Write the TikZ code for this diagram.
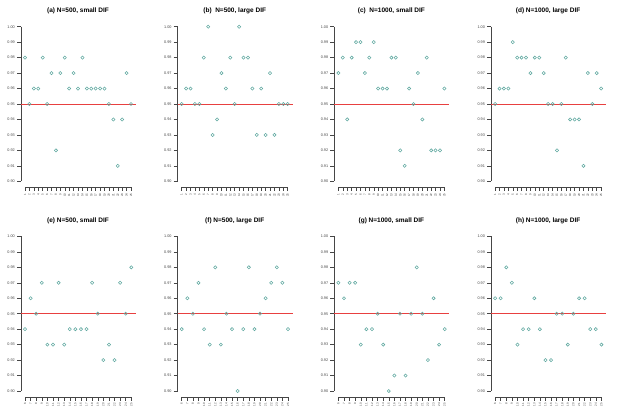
\documentclass[tikz,border=0pt]{standalone}
\usepackage{fontspec}
\setmainfont{Liberation Sans}
\definecolor{ptcol}{RGB}{95,168,160}
\definecolor{refred}{RGB}{232,64,64}
\definecolor{axgray}{RGB}{70,70,70}
\tikzset{
  ylab/.style={anchor=east,inner sep=0pt,font=\fontsize{3.8}{4}\selectfont,text=axgray},
  xlab/.style={anchor=east,rotate=90,inner sep=0pt,font=\fontsize{3}{3}\selectfont,text=axgray},
  ptitle/.style={inner sep=0pt,font=\fontsize{6.5}{7}\selectfont\bfseries},
  axline/.style={axgray,line width=0.6pt},
  tickline/.style={axgray,line width=0.45pt},
  pt/.style={ptcol,line width=0.55pt},
  refline/.style={refred,line width=0.8pt}
}
% #1 X0, #2 Ytop, #3 dx, #4 title, #5 data, #6 labels (macro), #7 name
\newcommand{\drawpanel}[7]{%
 \begin{scope}[shift={(#1,#2)}]
   \node[ptitle] (#7) at (57,-16) {#4};
   \draw[axline] (0,0) -- (0,154.6);
   \foreach \lab [count=\k from 0] in {1.00,0.99,0.98,0.97,0.96,0.95,0.94,0.93,0.92,0.91,0.90} {
     \draw[tickline] (-4,\k*15.46) -- (0,\k*15.46);
     \node[ylab] at (-6,\k*15.46) {\lab};
   }
   \draw[refline] (0,77.3) -- (115,77.3);
   \foreach \v [count=\i from 0] in {#5} {
     \draw[pt] (4+\i*#3,{(100-\v)*15.46}) circle[radius=1.6];
   }
   \foreach \lab [count=\i from 0] in #6 {
     \draw[tickline] (4+\i*#3,160.6) -- (4+\i*#3,164.6);
     \node[xlab] at (4+\i*#3,166.5) {\lab};
     \xdef\lastx{\i}
   }
   \draw[axline] (4,160.6) -- (4+\lastx*#3,160.6);
 \end{scope}}
\begin{document}
\begin{tikzpicture}[x=1pt,y=-1pt]
\useasboundingbox (0,0) rectangle (627,418);
\def\toplabs{1,2,3,4,5,6,7,8,9,10,11,12,13,14,15,16,17,18,19,20,21,22,23,24,25}
\def\botlabs{6,7,8,9,10,11,12,13,14,15,16,17,18,19,20,21,22,23,24,25}
\drawpanel{21}{26.7}{4.4167}{(a) N=500, small DIF}{98,95,96,96,98,95,97,92,97,98,96,97,96,98,96,96,96,96,96,95,94,91,94,97,95}{\toplabs}{ta}
\drawpanel{177.7}{26.7}{4.4167}{(b)\ \ N=500, large DIF}{95,96,96,95,95,98,100,93,94,97,96,98,95,100,98,98,96,93,96,93,97,93,95,95,95}{\toplabs}{tb}
\drawpanel{334.4}{26.7}{4.4167}{(c)\ \ N=1000, small DIF}{97,98,94,98,99,99,97,98,99,96,96,96,98,98,92,91,96,95,97,94,98,92,92,92,96}{\toplabs}{tc}
\drawpanel{491.1}{26.7}{4.4167}{(d) N=1000, large DIF}{95,96,96,96,99,98,98,98,97,98,98,97,95,95,92,95,98,94,94,94,91,97,95,97,96}{\toplabs}{td}
\drawpanel{21}{236.4}{5.595}{(e) N=500, small DIF}{94,96,95,97,93,93,97,93,94,94,94,94,97,95,92,93,92,97,95,98}{\botlabs}{te}
\drawpanel{177.7}{236.4}{5.595}{(f) N=500, large DIF}{94,96,95,97,94,93,98,93,95,94,90,94,98,94,95,96,97,98,97,94}{\botlabs}{tf}
\drawpanel{334.4}{236.4}{5.595}{(g) N=1000, small DIF}{97,96,97,97,93,94,94,95,93,90,91,95,91,95,98,95,92,96,93,94}{\botlabs}{tg}
\drawpanel{491.1}{236.4}{5.595}{(h) N=1000, large DIF}{96,96,98,97,93,94,94,96,94,92,92,95,95,93,95,96,96,94,94,93}{\botlabs}{th}
\end{tikzpicture}
\end{document}
